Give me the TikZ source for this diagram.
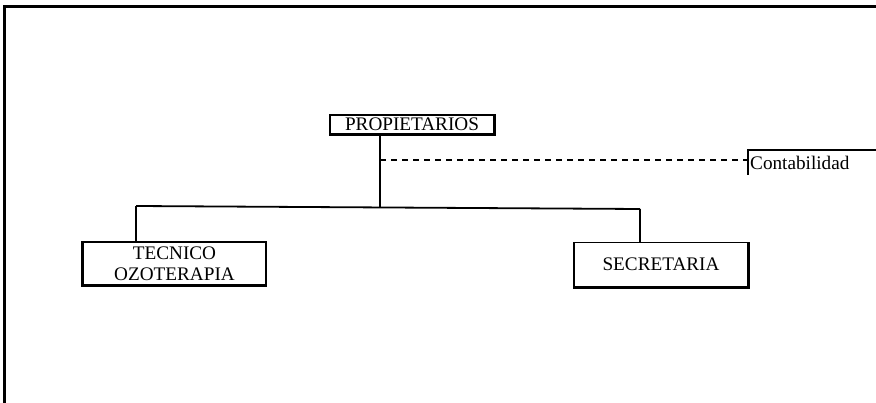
\documentclass[tikz,border=0pt]{standalone}
\usepackage{fontspec}
\setmainfont{Liberation Serif}
\begin{document}
\begin{tikzpicture}[x=1pt,y=-1pt,
  boxnode/.style={draw, line width=1.8pt, inner sep=0pt, align=center,
    font=\fontsize{19.2}{20.5}\selectfont},
  conn/.style={line width=1.8pt},
  dashconn/.style={line width=1.8pt, dashed, dash pattern=on 6pt off 5pt},
  framel/.style={line width=3pt}]
\useasboundingbox (0,0) rectangle (876,403);
% frame
\coordinate (ftl) at (4,7);
\coordinate (ftr) at (876,7);
\coordinate (fbl) at (4,403);
\draw[framel] (ftr) -- (ftl) -- (fbl);
% nodes
\node[boxnode, minimum width=164pt, minimum height=19pt] (prop) at (412,124.5) {PROPIETARIOS};
\node[boxnode, minimum width=183pt, minimum height=43pt] (tec) at (174.5,263.5) {TECNICO\\OZOTERAPIA};
\node[boxnode, minimum width=174pt, minimum height=44pt] (sec) at (661,264.5) {SECRETARIA};
\node[font=\fontsize{19.2}{20.5}\selectfont, anchor=base west, inner sep=0pt] (cont) at (750,170) {Contabilidad};
% Contabilidad box (top and left edges, open to the right)
\coordinate (ctl) at (748,150);
\coordinate (cbl) at (748,175);
\coordinate (ctr) at (880,150);
\draw[line width=2.8pt] (cbl) -- (ctl) -- (ctr);
% shadows
\draw[line width=2.8pt] (prop.south west) -- (prop.south east) -- (prop.north east);
\draw[line width=2.8pt] (tec.north west) -- (tec.south west) -- (tec.south east);
\draw[line width=2.8pt] (sec.south west) -- (sec.south east) -- (sec.north east);
% connectors
\coordinate (pj) at (380,208);
\coordinate (pd) at (380,160);
\coordinate (jl) at (136,206);
\coordinate (jr) at (640,209);
\draw[conn] (prop.south -| pj) -- (pj);
\draw[conn] (jl) -- (jr);
\draw[conn] (jl) -- (jl |- tec.north);
\draw[conn] (jr) -- (jr |- sec.north);
\draw[dashconn] (pd) -- (ctl |- pd);
\end{tikzpicture}
\end{document}
